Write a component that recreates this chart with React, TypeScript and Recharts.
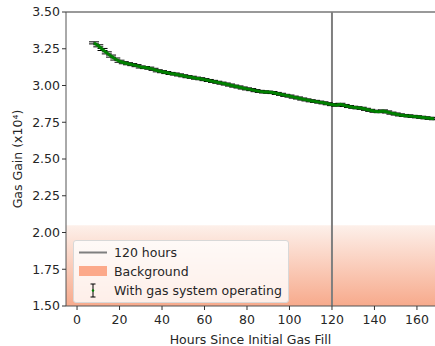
import { ComposedChart, Line, XAxis, YAxis, ReferenceLine, ReferenceArea, ErrorBar } from 'recharts'

// hours since initial fill
const hours = [
  8, 10, 12, 14, 16, 18, 20, 22, 24, 26, 28, 30, 32, 34, 36, 38, 40, 42, 44, 46,
  48, 50, 52, 54, 56, 58, 60, 62, 64, 66, 68, 70, 72, 74, 76, 78, 80, 82, 84, 86,
  88, 90, 92, 94, 96, 98, 100, 102, 104, 106, 108, 110, 112, 114, 116, 118, 120, 122, 124, 126,
  128, 130, 132, 134, 136, 138, 140, 142, 144, 146, 148, 150, 152, 154, 156, 158, 160, 162, 164, 166,
  168,
]

// gas gain in units of 10^4
const gain = [
  3.29, 3.27, 3.245, 3.222, 3.2, 3.18, 3.165, 3.155, 3.148, 3.142, 3.135, 3.126, 3.122, 3.118, 3.11, 3.1, 3.094, 3.088, 3.082, 3.078,
  3.072, 3.066, 3.06, 3.056, 3.05, 3.046, 3.04, 3.034, 3.028, 3.022, 3.016, 3.01, 3.003, 2.996, 2.99, 2.983, 2.977, 2.972, 2.965, 2.96,
  2.956, 2.955, 2.952, 2.946, 2.94, 2.933, 2.928, 2.921, 2.915, 2.908, 2.902, 2.896, 2.892, 2.887, 2.882, 2.876, 2.87, 2.866, 2.872, 2.864,
  2.857, 2.852, 2.848, 2.845, 2.838, 2.831, 2.825, 2.822, 2.827, 2.82, 2.812, 2.806, 2.8, 2.796, 2.793, 2.79, 2.787, 2.784, 2.78, 2.777,
  2.774,
]

const gainErr = 0.007

const xTicks = [0, 20, 40, 60, 80, 100, 120, 140, 160]
const yTicks = [1.5, 1.75, 2.0, 2.25, 2.5, 2.75, 3.0, 3.25, 3.5]

const markerHour = 120
const backgroundTop = 2.05

const data = hours.map((h, i) => ({ h, gain: gain[i], err: gainErr }))

const font = 'DejaVu Sans'
const textColor = '#262626'

function LegendBox() {
  return (
    <div style={{
      position: 'absolute', left: 73, top: 240,
      fontFamily: font, fontSize: 12.5, color: textColor,
      background: 'rgba(255,255,255,0.8)', border: '1px solid #d8d8d8', borderRadius: 3,
      width: 216, padding: '2px 0', boxSizing: 'border-box',
    }}>
      <div style={{ display: 'flex', alignItems: 'center', height: 19 }}>
        <svg width={40} height={19}><line x1={5} x2={33} y1={9.5} y2={9.5} stroke="#7f7f7f" strokeWidth={2} /></svg>
        <span>120 hours</span>
      </div>
      <div style={{ display: 'flex', alignItems: 'center', height: 19 }}>
        <svg width={40} height={19}><rect x={5} y={4} width={28} height={10} fill="#fca98a" /></svg>
        <span>Background</span>
      </div>
      <div style={{ display: 'flex', alignItems: 'center', height: 19 }}>
        <svg width={40} height={19}>
          <line x1={19} x2={19} y1={3} y2={16} stroke="#000" strokeWidth={1} />
          <line x1={16.5} x2={21.5} y1={3} y2={3} stroke="#000" strokeWidth={1} />
          <line x1={16.5} x2={21.5} y1={16} y2={16} stroke="#000" strokeWidth={1} />
          <circle cx={19} cy={9.5} r={1.2} fill="#008000" />
        </svg>
        <span>With gas system operating</span>
      </div>
    </div>
  )
}

const YLabel = () => (
  <text x={17} y={159} transform="rotate(-90 17 159)" textAnchor="middle" dominantBaseline="central"
    fill={textColor} fontFamily={font} fontSize={12.5}>
    Gas Gain (x10⁴)
  </text>
)

export default function App() {
  return (
    <div style={{ position: 'absolute', left: 0, top: 0, width: 435, height: 346, background: '#fff' }}>
      <ComposedChart width={435} height={346} data={data} margin={{ top: 12, right: 0, bottom: 0, left: 0 }}>
        <defs>
          <linearGradient id="bgGrad" x1="0" y1="0" x2="0" y2="1">
            <stop offset="0%" stopColor="#fdf0ea" />
            <stop offset="100%" stopColor="#f7aa8c" />
          </linearGradient>
        </defs>
        <XAxis
          dataKey="h" type="number" domain={[-5.2, 168.5]} allowDataOverflow ticks={xTicks}
          height={40} axisLine={{ stroke: '#555' }} tickLine={{ stroke: '#333' }} tickSize={4} tickMargin={5}
          tick={{ fill: textColor, fontFamily: font, fontSize: 12.5 }}
          label={{ value: 'Hours Since Initial Gas Fill', position: 'insideBottom', offset: 2, fill: textColor, fontFamily: font, fontSize: 12.5 }}
        />
        <YAxis
          type="number" domain={[1.5, 3.5]} allowDataOverflow ticks={yTicks} width={66}
          tickFormatter={(v: number) => v.toFixed(2)}
          axisLine={{ stroke: '#555' }} tickLine={{ stroke: '#333' }} tickSize={4}
          tick={{ fill: textColor, fontFamily: font, fontSize: 12.5 }}
          label={<YLabel />}
        />
        <ReferenceArea y1={1.5} y2={backgroundTop} fill="url(#bgGrad)" fillOpacity={1} stroke="none" ifOverflow="hidden" />
        <ReferenceLine y={3.5} stroke="#777" strokeWidth={1.5} />
        <ReferenceLine x={markerHour} stroke="#7f7f7f" strokeWidth={2} />
        <Line dataKey="gain" stroke="#008000" strokeWidth={3} dot={false} isAnimationActive={false}>
          <ErrorBar dataKey="err" width={5} stroke="#000" strokeWidth={1} direction="y" />
        </Line>
      </ComposedChart>
      <LegendBox />
    </div>
  )
}
